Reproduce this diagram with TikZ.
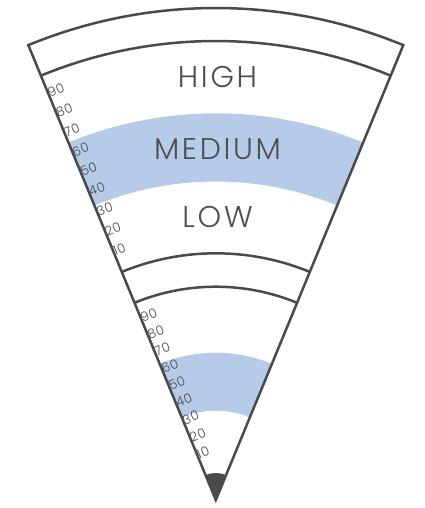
\documentclass[tikz,border=0pt]{standalone}
\usepackage{fontspec}
\setmainfont{Poppins Light}
\newfontfamily\zonefont{Poppins Light}[LetterSpace=9]
\newfontfamily\tickfont{Poppins Light}[LetterSpace=4]
\definecolor{ink}{RGB}{74,74,74}
\definecolor{txt}{RGB}{78,78,78}
\definecolor{bandblue}{RGB}{182,203,232}
\begin{document}
\begin{tikzpicture}[x=1pt,y=1pt,
  edge/.style={draw=ink,line width=2.5pt,line join=miter},
  zone/.style={font=\zonefont\fontsize{30}{31}\selectfont,text=txt,inner sep=0pt},
  tick/.style={font=\tickfont\fontsize{13}{14}\selectfont,text=ink,inner sep=0pt,anchor=west,rotate=22.4},
  bandfill/.style={fill=bandblue}]
\useasboundingbox (0,0) rectangle (425,508);
\coordinate (A) at (215.8,8);
% bands
\fill[bandfill] ([shift={(67.6:318.5)}]A) arc[start angle=67.6,end angle=112.4,radius=318.5]
  -- ([shift={(112.4:386.7)}]A) arc[start angle=112.4,end angle=67.6,radius=386.7] -- cycle;
\fill[bandfill] ([shift={(67.6:89.3)}]A) arc[start angle=67.6,end angle=112.4,radius=89.3]
  -- ([shift={(112.4:147.3)}]A) arc[start angle=112.4,end angle=67.6,radius=147.3] -- cycle;
% apex
\fill[ink] (A) -- ([shift={(67.6:27)}]A) arc[start angle=67.6,end angle=112.4,radius=27] -- cycle;
% outline
\draw[edge] (A) -- ([shift={(112.4:492)}]A) arc[start angle=112.4,end angle=67.6,radius=492] -- cycle;
\draw[edge] ([shift={(112.4:459)}]A) arc[start angle=112.4,end angle=67.6,radius=459];
\draw[edge] ([shift={(112.4:246.7)}]A) arc[start angle=112.4,end angle=67.6,radius=246.7];
\draw[edge] ([shift={(112.4:213.3)}]A) arc[start angle=112.4,end angle=67.6,radius=213.3];
% labels
\node[zone] (high) at (217.5,430.5) {HIGH};
\node[zone] (medium) at (217.5,359) {MEDIUM};
\node[zone] (low) at (217.5,290.5) {LOW};
\foreach \n [count=\i from 0] in {10,20,...,90} {
  \node[tick] (u\n) at ([shift={(112.4:{268.6+21.4*\i})}]A) {\n};
  \node[tick] (l\n) at ([shift={(112.4:{48.7+18.5*\i})}]A) {\n};
}
\end{tikzpicture}
\end{document}
